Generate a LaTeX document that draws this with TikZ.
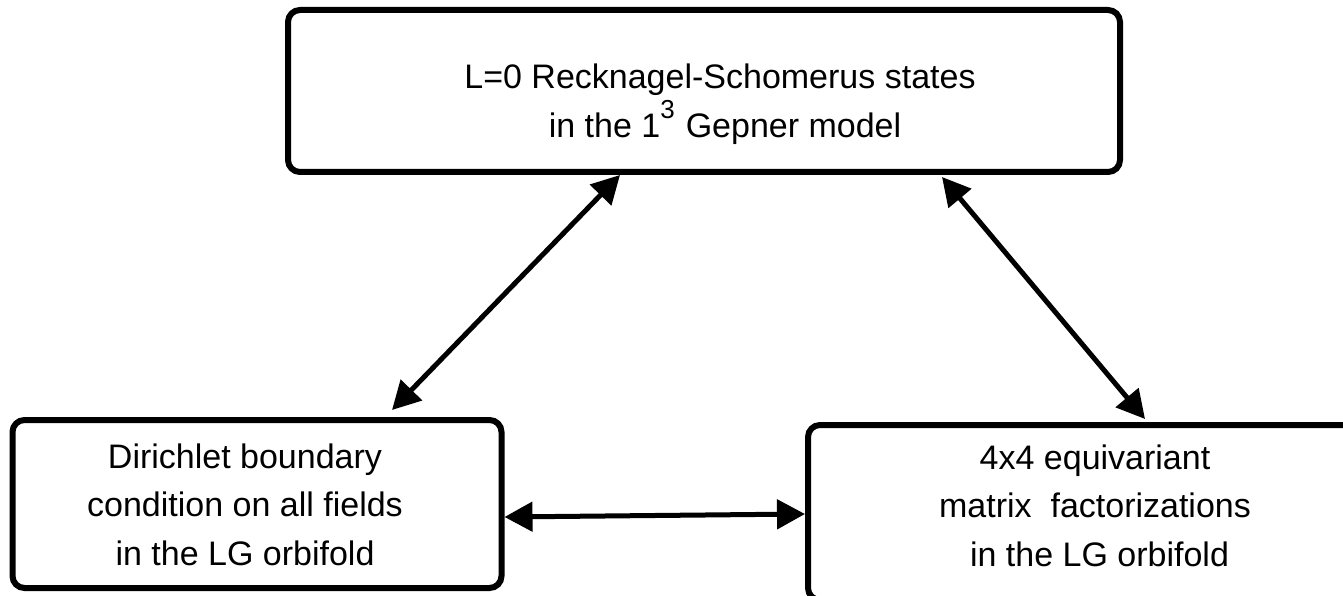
\documentclass[tikz,border=0pt]{standalone}
\usepackage{fontspec}
\setmainfont{Liberation Sans}
\usetikzlibrary{arrows.meta,positioning}
\tikzset{
  box/.style={draw=black, line width=6pt, rounded corners=12pt, fill=white},
  txt/.style={align=center, inner sep=0pt, font=\fontsize{34}{48.5}\selectfont},
  arr/.style={{Triangle[length=28pt,width=29pt]}-{Triangle[length=28pt,width=29pt]}, line width=5pt, draw=black},
}

\begin{document}
\begin{tikzpicture}[x=1pt,y=-1pt]
\clip (0,0) rectangle (1343,596);

% ---- Boxes ----
\node[box, minimum width=832pt, minimum height=162pt] (gepner) at (704,91) {};
\node[box, minimum width=489pt, minimum height=168pt] (dirichlet) at (257,504) {};
\node[box, minimum width=574pt, minimum height=175pt] (mfact) at (1095,512.5) {};

% ---- Texts ----
\node[txt] (gepnertext) at (720,104) {L=0 Recknagel-Schomerus states\\
  \hspace*{10pt}in the 1{\fontsize{26}{26}\selectfont\raisebox{19pt}{3}}\hspace{11pt}Gepner model};
\node[txt] (dirichlettext) at (245,504.5) {Dirichlet boundary\\condition on all fields\\in the LG orbifold};
\node[txt] (mfacttext) at (1095,505.5) {4x4 equivariant\\matrix\ \ factorizations\\\hspace*{9pt}in the LG orbifold};

% ---- Arrows ----
\draw[arr] ([xshift=-84pt]gepner.south) -- ([xshift=135pt,yshift=7pt]dirichlet.north);
\draw[arr] ([xshift=238pt,yshift=-2pt]gepner.south) -- ([xshift=50pt,yshift=3pt]mfact.north);
\draw[arr] ([yshift=-13pt]dirichlet.east) -- ([yshift=-1.5pt]mfact.west);

\end{tikzpicture}
\end{document}
